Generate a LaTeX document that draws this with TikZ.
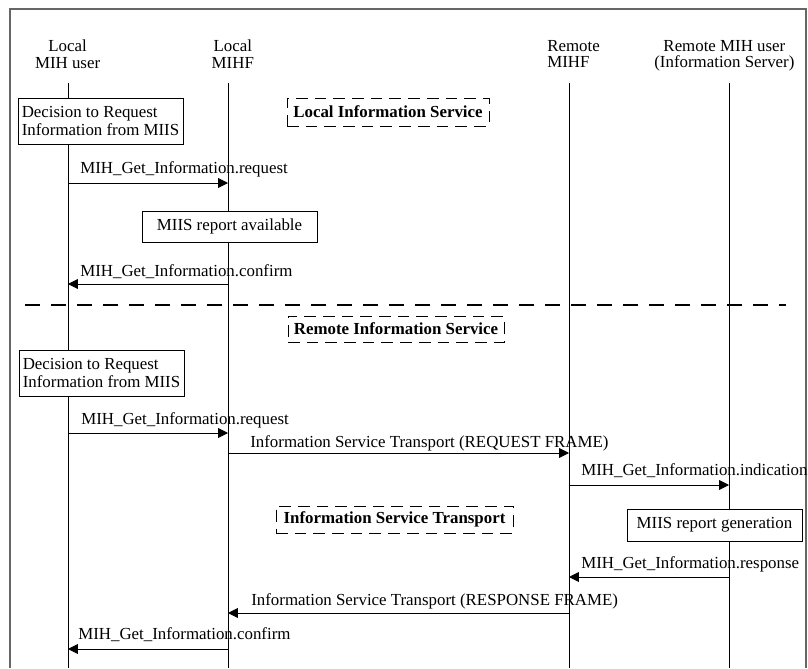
\documentclass[tikz,border=0pt]{standalone}
\usepackage{fontspec}
\setmainfont{Liberation Serif}
\usepackage{tikz}
\usetikzlibrary{arrows.meta}

\tikzset{
    msg/.style={line width=0.6pt, -{Triangle[length=7pt, width=7pt]}},
    lifeline/.style={line width=0.6pt},
    actbox/.style={draw, rectangle, fill=white, line width=0.6pt, align=left, inner sep=0pt},
    phasebox/.style={draw, rectangle, dash pattern=on 8.3pt off 5pt, line width=0.6pt, font=\fontsize{12}{13}\selectfont\bfseries},
    lbl/.style={anchor=base west, inner sep=0pt},
    head/.style={anchor=north, inner sep=0pt, font=\fontsize{12}{11.5}\selectfont}
}

\begin{document}
\begin{tikzpicture}[font=\fontsize{12}{13}\selectfont]
    \useasboundingbox (0,0) rectangle (20.2,-16.7);
    % frame
    \draw[gray!80!black, line width=0.8pt] (0.25,-16.7) -- (0.25,-0.225) -- (20.15,-0.225) -- (20.15,-16.7);

    % headers
    \node[head, align=center] (hlu) at (1.69,-1.0) {Local\\MIH user};
    \node[head, align=center] (hlf) at (5.82,-1.0) {Local\\MIHF};
    \node[head, align=left, anchor=north west] (hrf) at (13.675,-1.0) {Remote\\MIHF};
    \node[head, align=center] (hru) at (18.11,-1.0) {Remote MIH user\\(Information Server)};

    % lifelines
    \coordinate (lu) at (1.7,-2.075);
    \coordinate (lf) at (5.7,-2.075);
    \coordinate (rf) at (14.225,-2.075);
    \coordinate (ru) at (18.225,-2.075);
    \coordinate (lub) at (1.7,-16.7);
    \coordinate (lfb) at (5.7,-16.7);
    \coordinate (rfb) at (14.225,-16.7);
    \coordinate (rub) at (18.225,-16.7);
    \draw[lifeline] (lu) -- (lub);
    \draw[lifeline] (lf) -- (lfb);
    \draw[lifeline] (rf) -- (rfb);
    \draw[lifeline] (ru) -- (rub);

    % local information service
    \node[actbox, minimum width=4.125cm, minimum height=1.15cm] (dec1) at (2.5125,-3.025) {Decision to Request\\Information from MIIS};
    \node[phasebox, minimum width=5.05cm, minimum height=0.7cm] (lis) at (9.7,-2.8) {Local Information Service};

    \coordinate (r1) at (0,-4.575);
    \draw[msg] (lu |- r1) -- (lf |- r1);
    \node[lbl] (l1) at (2.0,-4.325) {MIH\_Get\_Information.request};

    \node[actbox, align=center, minimum width=4.375cm, minimum height=0.775cm] (avail) at (5.7375,-5.6625) {MIIS report available};

    \coordinate (r2) at (0,-7.1);
    \draw[msg] (lf |- r2) -- (lu |- r2);
    \node[lbl] (l2) at (2.0,-6.9) {MIH\_Get\_Information.confirm};

    \coordinate (sepl) at (0.625,-7.625);
    \coordinate (sepr) at (19.65,-7.625);
    \draw[line width=1.4pt, dash pattern=on 10.7pt off 7.8pt] (sepl) -- (sepr);

    % remote information service
    \node[phasebox, minimum width=5.4cm, minimum height=0.65cm] (ris) at (9.9,-8.225) {Remote Information Service};
    \node[actbox, minimum width=4.125cm, minimum height=1.15cm] (dec2) at (2.5375,-9.325) {Decision to Request\\Information from MIIS};

    \coordinate (r3) at (0,-10.825);
    \draw[msg] (lu |- r3) -- (lf |- r3);
    \node[lbl] (l3) at (2.025,-10.6) {MIH\_Get\_Information.request};

    \coordinate (r4) at (0,-11.325);
    \draw[msg] (lf |- r4) -- (rf |- r4);
    \node[lbl] (l4) at (6.25,-11.175) {Information Service Transport (REQUEST FRAME)};

    \coordinate (r5) at (0,-12.125);
    \draw[msg] (rf |- r5) -- (ru |- r5);
    \node[lbl] (l5) at (14.525,-11.875) {MIH\_Get\_Information.indication};

    \node[phasebox, minimum width=5.925cm, minimum height=0.675cm] (ist) at (9.8625,-12.9875) {Information Service Transport};
    \node[actbox, align=center, minimum width=4.375cm, minimum height=0.8cm] (gen) at (17.8625,-13.125) {MIIS report generation};

    \coordinate (r6) at (0,-14.425);
    \draw[msg] (ru |- r6) -- (rf |- r6);
    \node[lbl] (l6) at (14.525,-14.2) {MIH\_Get\_Information.response};

    \coordinate (r7) at (0,-15.325);
    \draw[msg] (rf |- r7) -- (lf |- r7);
    \node[lbl] (l7) at (6.275,-15.125) {Information Service Transport (RESPONSE FRAME)};

    \coordinate (r8) at (0,-16.225);
    \draw[msg] (lf |- r8) -- (lu |- r8);
    \node[lbl] (l8) at (1.95,-15.975) {MIH\_Get\_Information.confirm};
\end{tikzpicture}
\end{document}
